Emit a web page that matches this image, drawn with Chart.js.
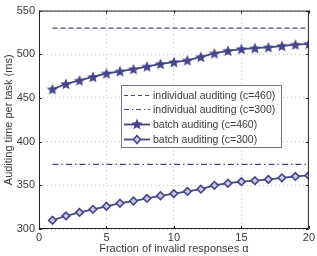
<!DOCTYPE html>
<html><head><meta charset="utf-8">
<script src="https://cdn.jsdelivr.net/npm/chart.js@4/dist/chart.umd.min.js"></script>
<style>html,body{margin:0;padding:0;background:#fff}#w{width:317px;height:256px}</style>
</head><body><div id="w"><canvas id="c"></canvas></div>
<script>
const alphaValues = [1,2,3,4,5,6,7,8,9,10,11,12,13,14,15,16,17,18,19,20];
const individual460 = [530,530,530,530,530,530,530,530,530,530,530,530,530,530,530,530,530,530,530,530];
const individual300 = [374,374,374,374,374,374,374,374,374,374,374,374,374,374,374,374,374,374,374,374];
const batch460 = [460,466,470,474,478,480.5,483,486,489,491,493,497,501,504,506,507,508,509.5,511,512];
const batch300 = [310,315,319,322.5,326,329.5,332,335,338,340.5,343,345.6,350,352.4,354.2,355.3,356.8,358.6,360.2,361.3];
const seriesLabels = ['individual auditing (c=460)','individual auditing (c=300)','batch auditing (c=460)','batch auditing (c=300)'];
const xTicks = [0,5,10,15,20];
const yTicks = [300,350,400,450,500,550];

const NAVY = '#45458c';
const FONT = '"Liberation Sans", Arial, sans-serif';

function starImg(size){
  const c=document.createElement('canvas');c.width=size;c.height=size;
  const g=c.getContext('2d');const cx=size/2,cy=size/2+0.5,R=size/2,r=R*0.45;
  g.beginPath();
  for(let i=0;i<10;i++){const a=-Math.PI/2+i*Math.PI/5;const rr=i%2?r:R;g.lineTo(cx+rr*Math.cos(a),cy+rr*Math.sin(a));}
  g.closePath();g.fillStyle=NAVY;g.fill();return c;
}
const star = starImg(12);

const pts = a => a.map((v,i)=>({x:alphaValues[i],y:v}));

const framePlugin = {
  id:'frame',
  afterDraw(chart){
    const {ctx,chartArea:ca,scales} = chart;
    ctx.save();
    ctx.strokeStyle='#222';ctx.lineWidth=1;
    ctx.strokeRect(ca.left+0.5,ca.top+0.5,ca.right-ca.left-1,ca.bottom-ca.top-1);
    ctx.beginPath();
    xTicks.forEach(t=>{const x=Math.round(scales.x.getPixelForValue(t))+0.5;ctx.moveTo(x,ca.bottom);ctx.lineTo(x,ca.bottom-3);ctx.moveTo(x,ca.top);ctx.lineTo(x,ca.top+3);});
    yTicks.forEach(t=>{const y=Math.round(scales.y.getPixelForValue(t))+0.5;ctx.moveTo(ca.left,y);ctx.lineTo(ca.left+3,y);ctx.moveTo(ca.right,y);ctx.lineTo(ca.right-3,y);});
    ctx.stroke();
    const L=121,T=85,W=160,H=62;
    ctx.fillStyle='#fff';ctx.fillRect(L,T,W,H);
    ctx.strokeStyle='#777';ctx.lineWidth=1;ctx.strokeRect(L+0.5,T+0.5,W,H);
    ctx.font='10.5px '+FONT;ctx.textBaseline='middle';
    const rows=[95.5,109.5,124.5,139.5];
    const dashes=[[4,3],[5,3,1,3],[],[]];
    rows.forEach((y,i)=>{
      ctx.strokeStyle=NAVY;ctx.lineWidth=i<2?1:1.8;ctx.setLineDash(dashes[i]);
      ctx.beginPath();ctx.moveTo(124,y);ctx.lineTo(150,y);ctx.stroke();ctx.setLineDash([]);
      if(i===2){ctx.drawImage(star,137-6,y-6.5);}
      if(i===3){ctx.beginPath();ctx.moveTo(137,y-4);ctx.lineTo(140.5,y);ctx.lineTo(137,y+4);ctx.lineTo(133.5,y);ctx.closePath();ctx.fillStyle='#c9c9e2';ctx.fill();ctx.lineWidth=1.5;ctx.stroke();}
      ctx.fillStyle='#3a3a3a';ctx.fillText(seriesLabels[i],153,y+0.5);
    });
    ctx.restore();
  }
};

new Chart(document.getElementById('c'),{
  type:'line',
  data:{datasets:[
    {label:seriesLabels[0],data:pts(individual460),borderColor:NAVY,borderWidth:1.2,borderDash:[5,3],pointRadius:0},
    {label:seriesLabels[1],data:pts(individual300),borderColor:NAVY,borderWidth:1.2,borderDash:[6,3,1.5,3],pointRadius:0},
    {label:seriesLabels[2],data:pts(batch460),borderColor:NAVY,borderWidth:1.8,pointStyle:star,pointRadius:6},
    {label:seriesLabels[3],data:pts(batch300),borderColor:NAVY,borderWidth:1.8,pointStyle:'rectRot',pointRadius:3.8,pointBackgroundColor:'#c9c9e2',pointBorderColor:NAVY,pointBorderWidth:1.6}
  ]},
  options:{
    responsive:true,maintainAspectRatio:false,animation:false,
    layout:{padding:{top:6,right:6,left:2,bottom:0}},
    plugins:{legend:{display:false},tooltip:{enabled:false}},
    scales:{
      x:{type:'linear',min:0,max:20,
        afterBuildTicks:s=>{s.ticks=xTicks.map(v=>({value:v}));},
        afterFit:s=>{s.height=27;},
        grid:{color:'#c4c4c4',lineWidth:1,drawTicks:false},
        border:{display:false,dash:[1,3]},
        ticks:{color:'#3a3a3a',font:{family:FONT,size:11},padding:2,maxRotation:0},
        title:{display:true,text:'Fraction of invalid responses α',color:'#3a3a3a',font:{family:FONT,size:11},padding:{top:0,bottom:0}}
      },
      y:{min:300,max:550,
        afterBuildTicks:s=>{s.ticks=yTicks.map(v=>({value:v}));},
        afterFit:s=>{s.width=37;},
        grid:{color:'#c4c4c4',lineWidth:1,drawTicks:false},
        border:{display:false,dash:[1,3]},
        ticks:{color:'#3a3a3a',font:{family:FONT,size:11},padding:4},
        title:{display:true,text:'Auditing time per task (ms)',color:'#3a3a3a',font:{family:FONT,size:11},padding:{top:0,bottom:0}}
      }
    }
  },
  plugins:[framePlugin]
});
</script></body></html>
